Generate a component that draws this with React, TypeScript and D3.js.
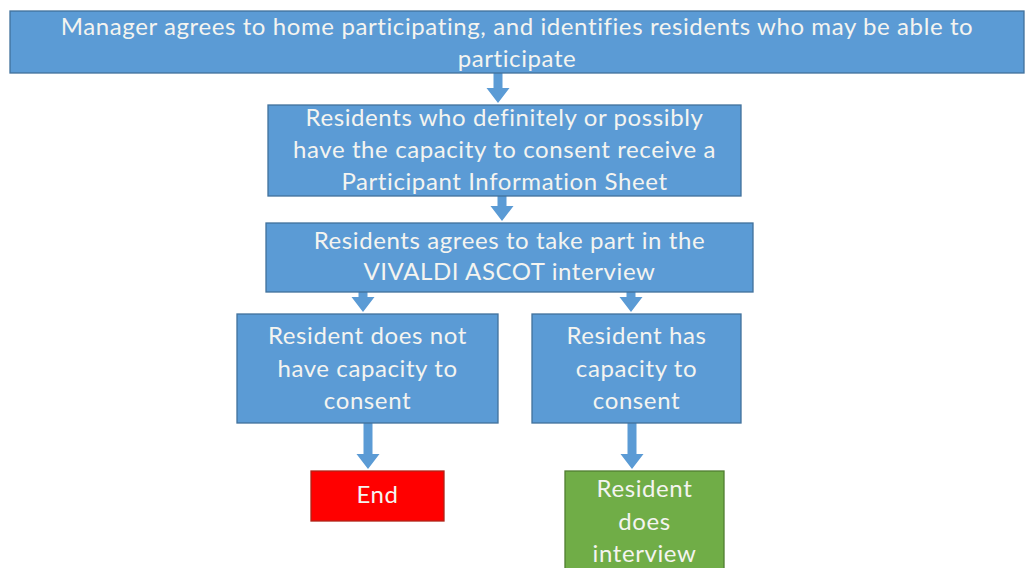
import React, { useEffect, useRef } from "react";
import * as d3 from "d3";

// node labels (one entry per line)
const managerLines = ["Manager agrees to home participating, and identifies residents who may be able to", "participate"];
const infoSheetLines = ["Residents who definitely or possibly", "have the capacity to consent receive a", "Participant Information Sheet"];
const agreeLines = ["Residents agrees to take part in the", "VIVALDI ASCOT interview"];
const noCapacityLines = ["Resident does not", "have capacity to", "consent"];
const hasCapacityLines = ["Resident has", "capacity to", "consent"];
const endLines = ["End"];
const interviewLines = ["Resident", "does", "interview"];

const nodeIds = ["manager", "info", "agree", "noCap", "hasCap", "end", "interview"];
const nodeLabels = [managerLines, infoSheetLines, agreeLines, noCapacityLines, hasCapacityLines, endLines, interviewLines];
const nodeKinds = ["step", "step", "step", "step", "step", "stop", "done"];
const edges: [string, string][] = [
  ["manager", "info"],
  ["info", "agree"],
  ["agree", "noCap"],
  ["agree", "hasCap"],
  ["noCap", "end"],
  ["hasCap", "interview"],
];

// layout in page pixels (ty = first baseline)
const layout: Record<string, { x0: number; x1: number; y0: number; y1: number; ty: number; gap: number }> = {
  manager: { x0: 10, x1: 1024, y0: 11, y1: 73, ty: 35, gap: 32 },
  info: { x0: 268, x1: 741, y0: 105, y1: 196, ty: 126, gap: 32 },
  agree: { x0: 266, x1: 753, y0: 223, y1: 292, ty: 249, gap: 31 },
  noCap: { x0: 237, x1: 498, y0: 314, y1: 423, ty: 344, gap: 32.5 },
  hasCap: { x0: 532, x1: 741, y0: 314, y1: 423, ty: 344, gap: 32.5 },
  end: { x0: 311, x1: 444, y0: 471, y1: 521, ty: 503, gap: 32 },
  interview: { x0: 565, x1: 724, y0: 471, y1: 580, ty: 497, gap: 32.5 },
};
const arrowX: Record<string, number> = {
  "manager-info": 498,
  "info-agree": 502,
  "agree-noCap": 363,
  "agree-hasCap": 631,
  "noCap-end": 368,
  "hasCap-interview": 632,
};

const fills: Record<string, string> = { step: "#5b9bd5", stop: "#ff0000", done: "#70ad47" };
const strokes: Record<string, string> = { step: "#41719c", stop: "#b02418", done: "#507e32" };

const App = () => {
  const svgRef = useRef<SVGSVGElement>(null);

  useEffect(() => {
    const width = 1025;
    const height = 568;

    const svg = d3.select(svgRef.current)
      .attr("width", width)
      .attr("height", height)
      .style("background", "#ffffff");
    svg.selectAll("*").remove();

    const nodes = nodeIds.map((id, i) => ({ id, lines: nodeLabels[i], kind: nodeKinds[i], ...layout[id] }));

    // block arrow pointing down
    const arrow = (cx: number, ya: number, yb: number) => {
      const p = d3.path();
      const sw = 4.5, hw = 11.5, hl = 15;
      p.moveTo(cx - sw, ya);
      p.lineTo(cx + sw, ya);
      p.lineTo(cx + sw, yb - hl);
      p.lineTo(cx + hw, yb - hl);
      p.lineTo(cx, yb);
      p.lineTo(cx - hw, yb - hl);
      p.lineTo(cx - sw, yb - hl);
      p.closePath();
      return p.toString();
    };

    svg.selectAll(".arrow")
      .data(edges)
      .join("path")
      .attr("class", "arrow")
      .attr("d", ([a, b]) => arrow(arrowX[`${a}-${b}`], layout[a].y1, layout[b].y0 - 2))
      .attr("fill", "#5b9bd5");

    const g = svg.selectAll(".node")
      .data(nodes)
      .join("g")
      .attr("class", "node");

    g.append("rect")
      .attr("x", (d) => d.x0)
      .attr("y", (d) => d.y0)
      .attr("width", (d) => d.x1 - d.x0)
      .attr("height", (d) => d.y1 - d.y0)
      .attr("fill", (d) => fills[d.kind])
      .attr("stroke", (d) => strokes[d.kind])
      .attr("stroke-width", 1.3);

    g.each(function (d) {
      d3.select(this)
        .selectAll("text")
        .data(d.lines)
        .join("text")
        .attr("x", (d.x0 + d.x1) / 2)
        .attr("y", (_, i) => d.ty + i * d.gap)
        .attr("text-anchor", "middle")
        .attr("font-family", "Lato, 'Open Sans', sans-serif")
        .attr("font-size", 24)
        .attr("letter-spacing", 0.6)
        .attr("fill", "#f4f4f0")
        .text((t) => t);
    });
  }, []);

  return (
    <svg ref={svgRef} style={{ position: "absolute", left: 0, top: 0, display: "block" }} />
  );
};

export default App;
